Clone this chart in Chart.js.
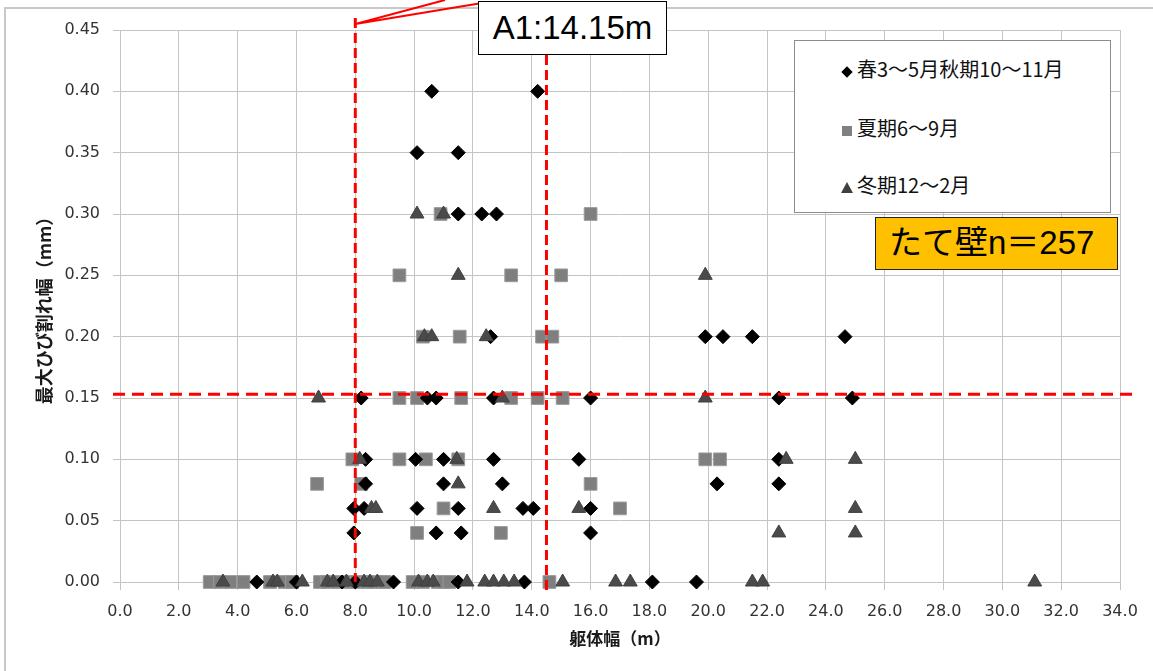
<!DOCTYPE html>
<html>
<head>
<meta charset="utf-8">
<script src="https://cdn.jsdelivr.net/npm/chart.js@4.4.1/dist/chart.umd.min.js"></script>
<style>
  body { margin: 0; background: #fff; }
  #wrap { position: relative; width: 1153px; height: 671px; overflow: hidden; background: #fff; }
  #frame { position: absolute; left: 4px; top: 7px; width: 1300px; height: 800px; border: 2px solid #c8c8c8; }
  #chart { position: absolute; left: 0; top: 0; }
  .note { position: absolute; box-sizing: border-box; }
  #a1 { left: 478px; top: 1px; width: 189px; height: 54px; border: 1.5px solid #000; background: #fff;
        font: 33px "Liberation Sans", Arial, sans-serif; line-height: 52px; text-align: center; color: #000; }
  #count { left: 875px; top: 217px; width: 243px; height: 53px; border: 1.5px solid #222; background: #ffc000;
           font: 33px "Liberation Sans", "Noto Sans CJK JP", sans-serif; line-height: 50px; padding-left: 13px; color: #000; white-space: nowrap; }
  #legend { left: 794px; top: 40px; width: 317px; height: 173px; border: 1.5px solid #8c8c8c; background: #fff; }
  .item { position: absolute; left: 42px; height: 24px; font: 20px "Noto Sans CJK JP", sans-serif; line-height: 24px; color: #111; white-space: nowrap; }
  .mk { display: inline-block; width: 20px; vertical-align: middle; position: relative; height: 24px; }
  .dia { position: absolute; left: 6px; top: 8px; width: 8px; height: 8px; background: #000; transform: rotate(45deg); }
  .sq { position: absolute; left: 5px; top: 7px; width: 10px; height: 10px; background: #808080; }
  .tri { position: absolute; left: 4px; top: 6px; width: 0; height: 0; border-left: 6px solid transparent; border-right: 6px solid transparent; border-bottom: 11px solid #404040; }
</style>
</head>
<body>
<div id="wrap">
  <div id="frame"></div>
  <canvas id="chart" width="1153" height="671"></canvas>
  <div class="note" id="legend">
    <div class="item" style="top:16px"><span class="mk"><span class="dia"></span></span>春3～5月秋期10～11月</div>
    <div class="item" style="top:75px"><span class="mk"><span class="sq"></span></span>夏期6～9月</div>
    <div class="item" style="top:132px"><span class="mk"><span class="tri"></span></span>冬期12～2月</div>
  </div>
  <div class="note" id="count">たて壁n＝257</div>
  <div class="note" id="a1">A1:14.15m</div>
</div>
<script>
// 春3～5月・秋期10～11月
const springX = [10.6, 14.2, 10.1, 11.5, 11.5, 12.3, 12.8,
  12.6, 19.9, 20.5, 21.5, 24.65,
  8.2, 10.45, 10.75, 12.7, 16.0, 22.4, 24.9,
  8.35, 10.05, 11.0, 12.7, 15.6, 22.4,
  8.35, 11.0, 13.0, 20.3, 22.4,
  7.95, 8.3, 10.1, 11.5, 13.7, 14.05, 16.0,
  7.95, 10.75, 11.6, 16.0,
  4.65, 6.0, 7.55, 8.0, 9.3, 11.5, 13.75, 18.1, 19.6];
const springY = [0.40, 0.40, 0.35, 0.35, 0.30, 0.30, 0.30,
  0.20, 0.20, 0.20, 0.20, 0.20,
  0.15, 0.15, 0.15, 0.15, 0.15, 0.15, 0.15,
  0.10, 0.10, 0.10, 0.10, 0.10, 0.10,
  0.08, 0.08, 0.08, 0.08, 0.08,
  0.06, 0.06, 0.06, 0.06, 0.06, 0.06, 0.06,
  0.04, 0.04, 0.04, 0.04,
  0, 0, 0, 0, 0, 0, 0, 0, 0];

// 夏期6～9月
const summerX = [10.9, 16.0, 9.5, 13.3, 15.0,
  10.3, 11.55, 14.35, 14.7,
  9.5, 10.1, 11.6, 13.3, 14.2, 15.05,
  7.9, 9.5, 10.4, 11.5, 19.9, 20.4,
  6.7, 8.2, 16.0,
  11.0, 17.0,
  10.1, 12.95,
  3.05, 3.4, 3.75, 4.2, 5.1, 5.6, 5.85, 6.8, 7.05, 7.4, 7.8, 8.05, 8.4, 8.6, 8.9, 9.0,
  9.95, 10.3, 10.8, 11.0, 11.2, 14.6];
const summerY = [0.30, 0.30, 0.25, 0.25, 0.25,
  0.20, 0.20, 0.20, 0.20,
  0.15, 0.15, 0.15, 0.15, 0.15, 0.15,
  0.10, 0.10, 0.10, 0.10, 0.10, 0.10,
  0.08, 0.08, 0.08,
  0.06, 0.06,
  0.04, 0.04,
  0, 0, 0, 0, 0, 0, 0, 0, 0, 0, 0, 0, 0, 0, 0, 0,
  0, 0, 0, 0, 0, 0];

// 冬期12～2月
const winterX = [10.1, 11.0, 11.5, 19.9,
  10.35, 10.6, 12.45,
  6.75, 13.0, 19.9,
  8.15, 11.45, 22.65, 25.0,
  11.5,
  8.55, 8.7, 12.7, 15.6, 25.0,
  22.4, 25.0,
  3.5, 5.2, 5.35, 6.2, 7.05, 7.25, 7.7, 8.3, 8.5, 8.75, 10.15, 10.45, 10.65, 11.8,
  12.4, 12.7, 13.05, 13.4, 15.05, 16.85, 17.35, 21.5, 21.85, 31.1];
const winterY = [0.30, 0.30, 0.25, 0.25,
  0.20, 0.20, 0.20,
  0.15, 0.15, 0.15,
  0.10, 0.10, 0.10, 0.10,
  0.08,
  0.06, 0.06, 0.06, 0.06, 0.06,
  0.04, 0.04,
  0, 0, 0, 0, 0, 0, 0, 0, 0, 0, 0, 0, 0, 0,
  0, 0, 0, 0, 0, 0, 0, 0, 0, 0];

const seriesNames = ['春3～5月秋期10～11月', '夏期6～9月', '冬期12～2月'];

// red guide lines (A1 width and crack limit)
const guideX = [8, 14.5];
const guideY = 0.153;

const toPoints = (xs, ys) => xs.map((v, i) => ({ x: v, y: ys[i] }));

const gridColor = '#c4c4c4';
const tickFont = { family: 'DejaVu Sans', size: 16 };
const titleFont = { family: 'Noto Sans CJK JP', size: 18, weight: 'bold' };

const guideLines = {
  id: 'guideLines',
  afterDatasetsDraw(chart) {
    const { ctx, scales: { x, y } } = chart;
    const x0 = x.getPixelForValue(guideX[0]);
    const x1 = x.getPixelForValue(guideX[1]);
    const yBase = y.getPixelForValue(0);
    const yLim = y.getPixelForValue(guideY);
    ctx.save();
    ctx.strokeStyle = '#ff0000';
    ctx.lineWidth = 3;
    ctx.setLineDash([10, 5]);
    ctx.beginPath();
    ctx.moveTo(x0, 18); ctx.lineTo(x0, yBase);
    ctx.moveTo(x1, 55); ctx.lineTo(x1, yBase + 10);
    ctx.stroke();
    ctx.setLineDash([12, 7]);
    ctx.beginPath();
    ctx.moveTo(113, yLim); ctx.lineTo(1137, yLim);
    ctx.stroke();
    // callout to the A1 box
    ctx.setLineDash([]);
    ctx.lineWidth = 2;
    ctx.beginPath();
    ctx.moveTo(x0, 24); ctx.lineTo(445, 0);
    ctx.moveTo(x0, 24); ctx.lineTo(482, 3);
    ctx.stroke();
    ctx.restore();
  }
};

new Chart(document.getElementById('chart'), {
  type: 'scatter',
  data: {
    datasets: [
      {
        label: seriesNames[0],
        data: toPoints(springX, springY),
        pointStyle: 'rectRot',
        pointRadius: 7,
        backgroundColor: '#000000',
        borderColor: '#000000',
        borderWidth: 1,
        clip: false,
        order: 2
      },
      {
        label: seriesNames[1],
        data: toPoints(summerX, summerY),
        pointStyle: 'rect',
        pointRadius: 9,
        backgroundColor: '#7f7f7f',
        borderColor: '#9a9a9a',
        borderWidth: 1,
        clip: false,
        order: 3
      },
      {
        label: seriesNames[2],
        data: toPoints(winterX, winterY),
        pointStyle: 'triangle',
        pointRadius: 8,
        backgroundColor: '#4a4a4a',
        borderColor: '#404040',
        borderWidth: 1,
        clip: false,
        order: 1
      }
    ]
  },
  options: {
    responsive: false,
    animation: false,
    layout: { padding: { left: 0, top: 30, right: 33, bottom: 0 } },
    plugins: {
      legend: { display: false },
      tooltip: { enabled: false }
    },
    scales: {
      x: {
        type: 'linear',
        min: 0,
        max: 34,
        afterFit(s) { s.height = 89; },
        ticks: { stepSize: 2, callback: v => v.toFixed(1), font: tickFont, color: '#333333', padding: 12, maxRotation: 0, autoSkip: false },
        grid: { color: gridColor, lineWidth: 1, tickLength: 8 },
        border: { color: gridColor, width: 1 },
        title: { display: true, text: '躯体幅（m）', font: { family: 'Noto Sans CJK JP', size: 17, weight: 'bold' }, color: '#1a1a1a', padding: { top: 0, bottom: 22 } }
      },
      y: {
        min: 0,
        max: 0.45,
        afterFit(s) { s.width = 120; },
        ticks: { stepSize: 0.05, callback: v => v.toFixed(2), font: tickFont, color: '#333333', padding: 13 },
        grid: { color: gridColor, lineWidth: 1, tickLength: 7 },
        border: { color: gridColor, width: 1 },
        title: { display: true, text: '最大ひび割れ幅（mm）', font: titleFont, color: '#1a1a1a', padding: { top: 33, bottom: 0 } }
      }
    }
  },
  plugins: [guideLines]
});
</script>
</body>
</html>
